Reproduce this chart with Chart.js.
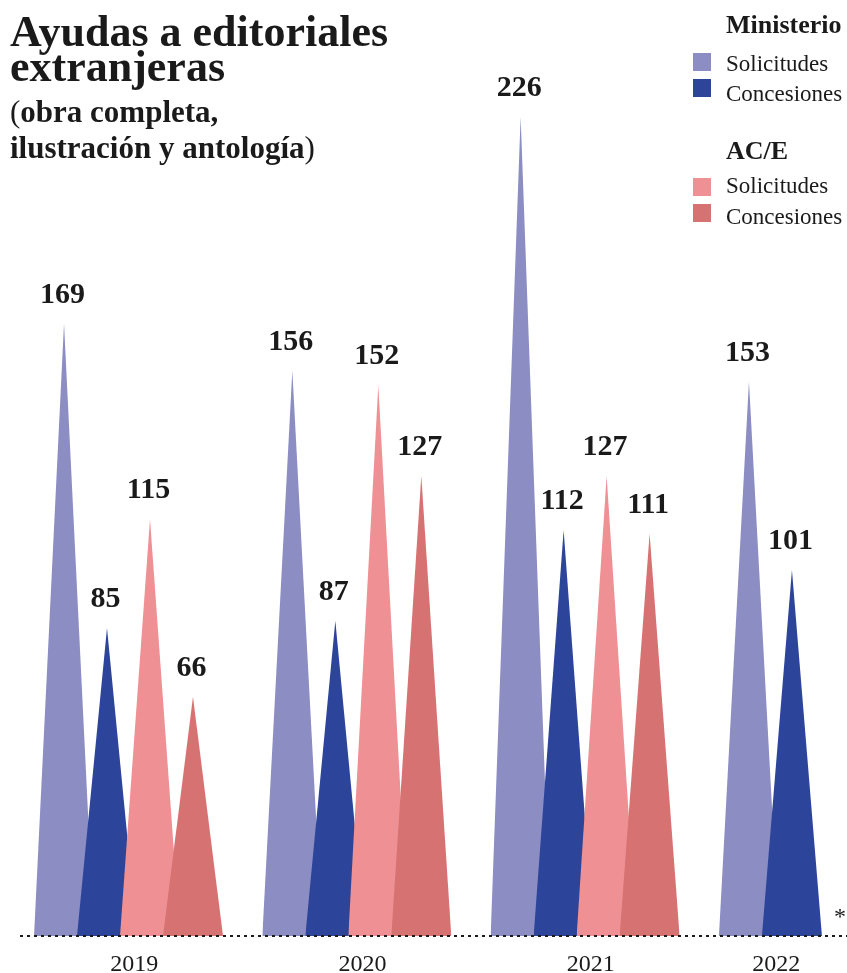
<!DOCTYPE html>
<html lang="es">
<head>
<meta charset="utf-8">
<script src="https://cdn.jsdelivr.net/npm/chart.js@4/dist/chart.umd.min.js"></script>
<style>
  html, body { margin:0; padding:0; background:#fff; }
  #wrap { position:relative; width:847px; height:973px; font-family:'Liberation Serif', serif; color:#1a1a1a; }
  #wrap canvas { position:absolute; left:0; top:0; }
  .t { position:absolute; white-space:nowrap; line-height:1; }
  .sw { position:absolute; width:18px; height:18px; }
</style>
</head>
<body>
<div id="wrap">
  <canvas id="chart" width="847" height="973"></canvas>

  <div class="t" style="left:10px; top:10px; font-size:44px; font-weight:700;">Ayudas a editoriales</div>
  <div class="t" style="left:10px; top:45px; font-size:44px; font-weight:700;">extranjeras</div>
  <div class="t" style="left:10px; top:96px; font-size:31px; font-weight:700;"><span style="font-weight:400">(</span>obra completa,</div>
  <div class="t" style="left:10px; top:132px; font-size:31px; font-weight:700;">ilustración y antología<span style="font-weight:400">)</span></div>

  <div class="t" style="left:726px; top:12px; font-size:26px; font-weight:700;">Ministerio</div>
  <div class="sw" id="sw0" style="left:693px; top:53px;"></div>
  <div class="t" style="left:726px; top:52px; font-size:23px;" id="lg0"></div>
  <div class="sw" id="sw1" style="left:693px; top:79px;"></div>
  <div class="t" style="left:726px; top:82px; font-size:23px;" id="lg1"></div>

  <div class="t" style="left:726px; top:138px; font-size:26px; font-weight:700;">AC/E</div>
  <div class="sw" id="sw2" style="left:693px; top:178px;"></div>
  <div class="t" style="left:726px; top:174px; font-size:23px;" id="lg2"></div>
  <div class="sw" id="sw3" style="left:693px; top:204px;"></div>
  <div class="t" style="left:726px; top:205px; font-size:23px;" id="lg3"></div>

  <div class="t" style="left:834px; top:904px; font-size:24px;">*</div>
</div>

<script>
// years on the x axis
const years = ['2019', '2020', '2021', '2022'];

// series (Ministerio / AC/E, solicitudes y concesiones)
const seriesNames  = ['Solicitudes', 'Concesiones', 'Solicitudes', 'Concesiones'];
const seriesColors = ['#8b8dc3', '#2c4499', '#ee9094', '#d77272'];

const minSolicitudes = [169, 156, 226, 153];
const minConcesiones = [85, 87, 112, 101];
const aceSolicitudes = [115, 152, 127, null];
const aceConcesiones = [66, 127, 111, null];

const seriesValues = [minSolicitudes, minConcesiones, aceSolicitudes, aceConcesiones];

// spacing of the spikes inside one year, in year units
const SPACING = 0.1883;
const HALF_BASE = 0.1314;

const textCol = '#1a1a1a';
const FONT = "'Liberation Serif', serif";

seriesNames.forEach((n, i) => {
  document.getElementById('lg' + i).textContent = n;
  document.getElementById('sw' + i).style.background = seriesColors[i];
});

// one filled triangle per value
const datasets = [];
seriesValues.forEach((vals, s) => {
  vals.forEach((v, g) => {
    if (v == null) return;
    const c = g + (s - 1.5) * SPACING;
    datasets.push({
      label: years[g] + ' ' + seriesNames[s],
      data: [{ x: c - HALF_BASE, y: 0 }, { x: c, y: v }, { x: c + HALF_BASE, y: 0 }],
      backgroundColor: seriesColors[s],
      borderWidth: 0,
      pointRadius: 0,
      tension: 0,
      fill: 'origin',
      order: -s
    });
  });
});

// tick position = middle of the spikes that exist for the year
const yearTicks = years.map((y, g) => {
  const xs = seriesValues
    .map((vals, s) => vals[g] == null ? null : g + (s - 1.5) * SPACING)
    .filter(x => x != null);
  return xs.reduce((a, b) => a + b, 0) / xs.length + 0.025;
});

// numbers above each spike + dotted base line on top of the fills
const overlay = {
  id: 'overlay',
  afterDatasetsDraw(chart) {
    const ctx = chart.ctx;
    const base = chart.scales.y.getPixelForValue(0);
    ctx.save();
    ctx.strokeStyle = textCol;
    ctx.lineWidth = 2;
    ctx.setLineDash([3, 4]);
    ctx.beginPath();
    ctx.moveTo(chart.chartArea.left + 2, base);
    ctx.lineTo(chart.chartArea.right, base);
    ctx.stroke();
    ctx.setLineDash([]);

    ctx.font = `bold 30px ${FONT}`;
    ctx.fillStyle = textCol;
    ctx.textAlign = 'center';
    ctx.textBaseline = 'alphabetic';
    chart.data.datasets.forEach((ds, i) => {
      const top = chart.getDatasetMeta(i).data[1];
      ctx.fillText(String(ds.data[1].y), top.x - 1.5, top.y - 21);
    });
    ctx.restore();
  }
};

new Chart(document.getElementById('chart'), {
  type: 'line',
  data: { datasets },
  plugins: [overlay],
  options: {
    responsive: false,
    animation: false,
    layout: { padding: { left: 18, right: 0, top: 0, bottom: 0 } },
    plugins: { legend: { display: false }, tooltip: { enabled: false } },
    scales: {
      x: {
        type: 'linear',
        min: -0.484,
        max: 3.147,
        grid: { display: false, drawTicks: false },
        border: { display: false },
        afterBuildTicks: scale => { scale.ticks = yearTicks.map(v => ({ value: v })); },
        afterFit: scale => { scale.height = 37; },
        ticks: {
          autoSkip: false,
          maxRotation: 0,
          padding: 14,
          color: textCol,
          font: { family: FONT, size: 24 },
          callback: (v, i) => years[i]
        }
      },
      y: { display: false, min: 0, max: 258.3 }
    }
  }
});
</script>
</body>
</html>
